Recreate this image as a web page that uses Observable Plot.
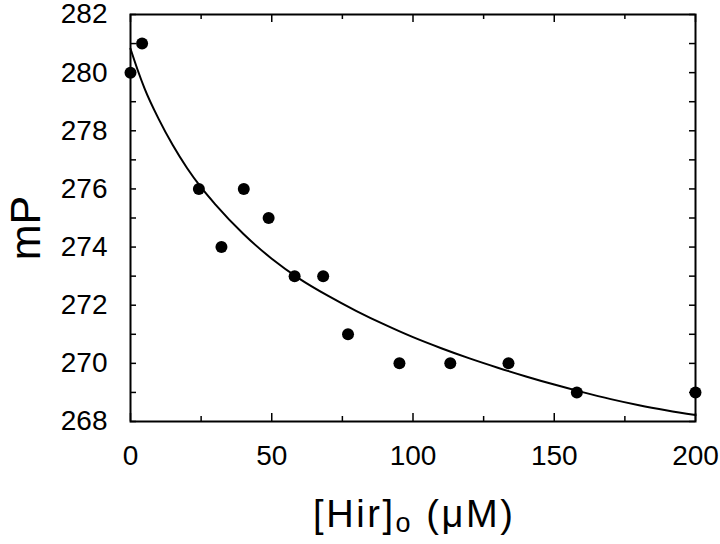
<!DOCTYPE html>
<html><head><meta charset="utf-8">
<script src="https://cdn.jsdelivr.net/npm/d3@7"></script>
<script src="https://cdn.jsdelivr.net/npm/@observablehq/plot@0.6"></script>
<style>body{margin:0;background:#fff}</style>
</head><body><div id="chart"></div>
<script>
// Data points: [Hir]o (µM) vs mP
const hirConc = [0, 4.1, 24.2, 32.2, 40.1, 48.9, 58.1, 68.2, 77.0, 95.2, 113.2, 133.8, 158.0, 200];
const mPValues = [280, 281, 276, 274, 276, 275, 273, 273, 271, 270, 270, 270, 269, 269];
// Fitted curve
const fitConc = [0, 2.5, 5, 10, 15, 20, 25, 30, 40, 50, 60, 70, 80, 90, 100, 110, 120, 130, 140, 150, 160, 170, 180, 190, 200];
const fitMP = [280.82, 280.1, 279.45, 278.4, 277.5, 276.72, 276.05, 275.47, 274.45, 273.6, 272.9, 272.32, 271.8, 271.33, 270.9, 270.52, 270.17, 269.85, 269.55, 269.27, 269.01, 268.77, 268.56, 268.38, 268.22];
// Ticks
const xLabelTicks = [0, 50, 100, 150, 200];
const xMinorTicks = [25, 75, 125, 175];
const yLabelTicks = [268, 270, 272, 274, 276, 278, 280, 282];
const yMinorTicks = [268, 269, 270, 271, 272, 273, 274, 275, 276, 277, 278, 279, 280, 281, 282];

const points = hirConc.map((x, i) => ({x, y: mPValues[i]}));
const fit = fitConc.map((x, i) => ({x, y: fitMP[i]}));

const W = 720, H = 544, mL = 130, mR = 25, mT = 14, mB = 123;
const innerW = W - mL - mR, innerH = H - mT - mB;
const tickStyle = {stroke: "#000", strokeWidth: 1.5};
const xTick = (data, side, len) => Plot.tickX(data, {x: d => d, ...tickStyle,
  ...(side === "bottom" ? {insetTop: innerH - len} : {insetBottom: innerH - len})});
const yTick = (data, side, len) => Plot.tickY(data, {y: d => d, ...tickStyle,
  ...(side === "left" ? {insetRight: innerW - len} : {insetLeft: innerW - len})});

const font = "'Liberation Sans', Arial, Helvetica, sans-serif";
const plot = Plot.plot({
  width: W, height: H,
  marginLeft: mL, marginRight: mR, marginTop: mT, marginBottom: mB,
  x: {domain: [0, 200]},
  y: {domain: [268, 282]},
  style: {fontFamily: font, fontSize: "28px", color: "#000", background: "#fff", overflow: "visible"},
  marks: [
    // tick labels
    Plot.axisX(xLabelTicks, {anchor: "bottom", tickSize: 0, tickPadding: 24, label: null, fontSize: 28}),
    Plot.axisY(yLabelTicks, {anchor: "left", tickSize: 0, tickPadding: 23, label: null, fontSize: 28}),
    // inward ticks
    xTick(xLabelTicks, "bottom", 8),
    xTick(xMinorTicks, "bottom", 5),
    xTick(xLabelTicks, "top", 8),
    xTick(xMinorTicks, "top", 5),
    yTick(yMinorTicks, "left", 6),
    yTick(yMinorTicks, "right", 6),
    Plot.frame({stroke: "#000", strokeWidth: 2}),
    Plot.line(fit, {x: "x", y: "y", curve: "monotone-x", stroke: "#000", strokeWidth: 2}),
    Plot.dot(points, {x: "x", y: "y", r: 6, fill: "#000", stroke: "none"})
  ]
});

const svg = d3.select(plot);
// x-axis title
const xt = svg.append("text")
  .attr("x", 413).attr("y", 527)
  .attr("text-anchor", "middle")
  .attr("font-family", font).attr("font-size", 38).attr("fill", "#000")
  .attr("textLength", 200).attr("lengthAdjust", "spacing");
xt.append("tspan").text("[Hir]");
xt.append("tspan").attr("font-size", 27).attr("dy", 5).text("o");
xt.append("tspan").attr("dy", -5).text(" (\u03BCM)");
// y-axis title
svg.append("text")
  .attr("transform", "translate(40,228) rotate(-90)")
  .attr("text-anchor", "middle")
  .attr("font-family", font).attr("font-size", 43).attr("fill", "#000")
  .text("mP");

document.getElementById("chart").appendChild(plot);
</script>
</body></html>
